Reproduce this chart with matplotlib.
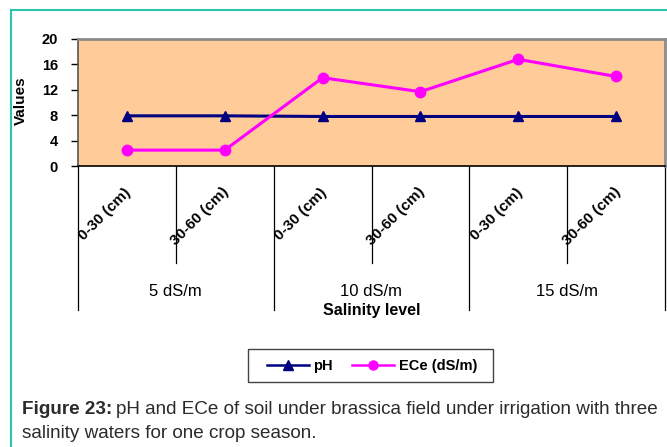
import matplotlib
matplotlib.use("Agg")
import matplotlib.pyplot as plt
from matplotlib.lines import Line2D
from matplotlib.patches import Rectangle
import matplotlib.transforms as mtransforms

plt.rcParams['font.family'] = ['Liberation Sans', 'DejaVu Sans']

depths = ["0-30 (cm)", "30-60 (cm)", "0-30 (cm)", "30-60 (cm)", "0-30 (cm)", "30-60 (cm)"]
groups = ["5 dS/m", "10 dS/m", "15 dS/m"]
ph = [7.9, 7.9, 7.8, 7.8, 7.8, 7.8]
ece = [2.5, 2.5, 13.9, 11.7, 16.8, 14.1]
yticks = [0, 4, 8, 12, 16, 20]

W, H = 667, 447
fig = plt.figure(figsize=(W / 100, H / 100), dpi=100)

# teal page border
teal = '#2cc4ac'
fig.add_artist(Line2D([11 / W, 11 / W], [0, 1 - 10 / H], color=teal, lw=1.5))
fig.add_artist(Line2D([11 / W, 1], [1 - 10 / H, 1 - 10 / H], color=teal, lw=1.5))

left, right, top, bottom = 78, 665, 39, 166
ax = fig.add_axes([left / W, 1 - bottom / H, (right - left) / W, (bottom - top) / H])
ax.set_facecolor('#FFCC99')

n = len(depths)
xs = [i + 0.5 for i in range(n)]
ax.plot(xs, ph, color='#000080', lw=2.2, marker='^', ms=7, label='pH', zorder=3)
ax.plot(xs, ece, color='#FF00FF', lw=2.2, marker='o', ms=7.5, label='ECe (dS/m)', zorder=3)

ax.set_xlim(0, n)
ax.set_ylim(0, 20)
ax.set_yticks(yticks)
ax.set_yticklabels([str(v) for v in yticks], fontsize=10.5, fontweight='bold')
ax.tick_params(axis='y', length=5, width=1, pad=9.5)
ax.set_xticks([])

for s in ['top', 'right']:
    ax.spines[s].set_color('#8c8c8c')
    ax.spines[s].set_linewidth(2)
ax.spines['left'].set_color('#555555')
ax.spines['left'].set_linewidth(1.2)
ax.spines['bottom'].set_color('black')
ax.spines['bottom'].set_linewidth(1.2)

trans = mtransforms.blended_transform_factory(ax.transData, ax.transAxes)
ph_px = bottom - top
short_end = -(263 - bottom) / ph_px
long_end = -(310 - bottom) / ph_px
for i in range(n + 1):
    yend = long_end if i % 2 == 0 else short_end
    ax.plot([i, i], [0, yend], color='black', lw=0.9, transform=trans, clip_on=False)

# depth labels (rotated, end anchored near category centre)
lab_y = -(190 - bottom) / ph_px
for i, d in enumerate(depths):
    ax.text(xs[i] + 0.02, lab_y, d, rotation=45, rotation_mode='anchor',
            ha='right', va='center', fontsize=11, fontweight='bold', transform=trans)

# group labels
grp_y = -(291 - bottom) / ph_px
for g, name in enumerate(groups):
    ax.text(2 * g + 1, grp_y, name, ha='center', va='center', fontsize=12,
            transform=trans)
ax.text(n / 2, -(311 - bottom) / ph_px, "Salinity level", ha='center', va='center',
        fontsize=11.5, fontweight='bold', transform=trans)

fig.text(21 / W, 1 - 101 / H, "Values", rotation=90, ha='center', va='center',
         fontsize=11, fontweight='bold')

leg = fig.legend(loc='center', bbox_to_anchor=(372 / W, 1 - 366 / H), ncol=2,
                 frameon=False,
                 prop={'weight': 'bold', 'size': 10.5}, handlelength=2.9,
                 columnspacing=1.3, borderpad=0.55, handletextpad=0.3)
for h in leg.legend_handles:
    h.set_linewidth(1.8)
    h.set_markersize(6.5)
fig.add_artist(Rectangle((248 / W, 1 - 382 / H), (493 - 248) / W, (382 - 349) / H,
                         transform=fig.transFigure, fill=False, edgecolor='#444444', lw=1))

# caption
cap_col = '#2b2b2b'
cap_fs = 13.6
t1 = fig.text(22 / W, 1 - 410 / H, "Figure 23:", fontsize=cap_fs, fontweight='bold',
              color=cap_col, va='center')
fig.canvas.draw()
bb = t1.get_window_extent(renderer=fig.canvas.get_renderer())
x2 = (bb.x1 + 4) / W
fig.text(x2, 1 - 410 / H, "pH and ECe of soil under brassica field under irrigation with three",
         fontsize=cap_fs, color=cap_col, va='center')
fig.text(22 / W, 1 - 433 / H, "salinity waters for one crop season.", fontsize=cap_fs,
         color=cap_col, va='center')

fig.savefig('out.png', dpi=100)
